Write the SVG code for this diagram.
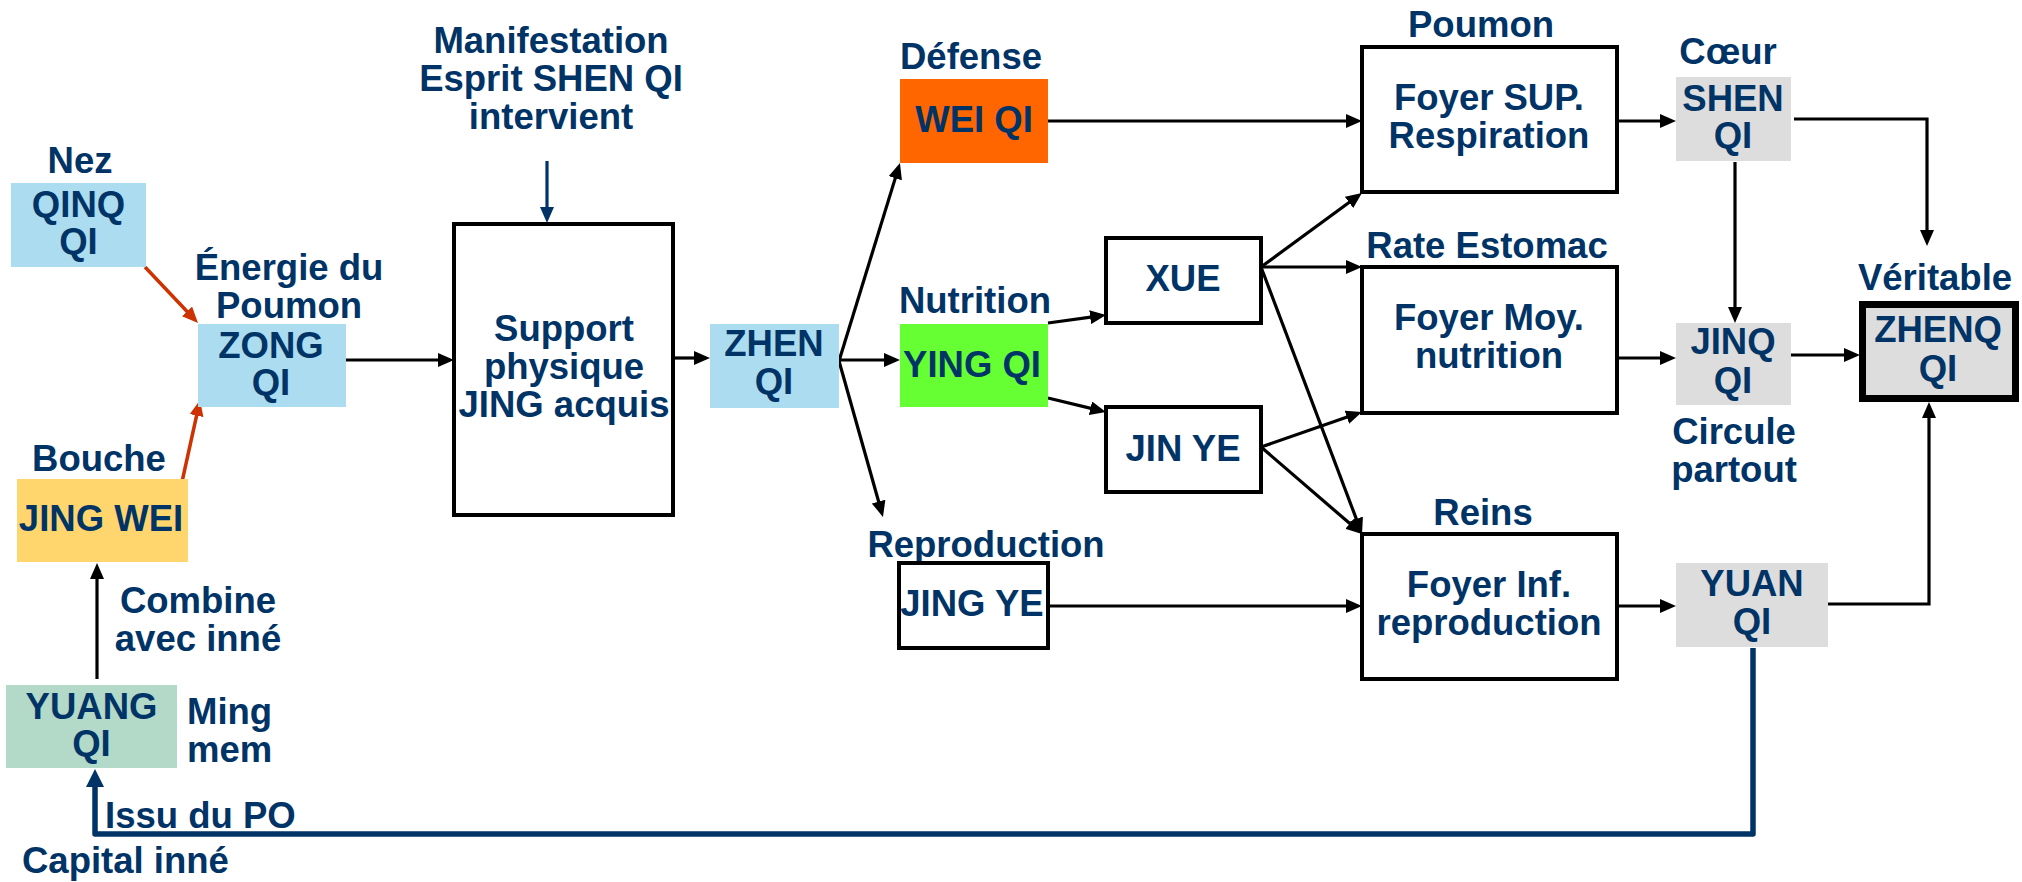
<svg xmlns="http://www.w3.org/2000/svg" width="2022" height="882" viewBox="0 0 2022 882">
<style>
text{font-family:"Liberation Sans",Arial,sans-serif;font-weight:bold;font-size:36.5px;fill:#003366;text-anchor:middle}
.st{text-anchor:start}
.bx{stroke:#000;stroke-width:4;fill:#fff}
.c{fill:none;stroke:#000;stroke-width:3.2}
.r{fill:none;stroke:#cc3300;stroke-width:3.5}
.n{fill:none;stroke:#003366;stroke-width:3.2}
.nb{fill:none;stroke:#003366;stroke-width:5.5;stroke-linejoin:round}
</style>
<defs>
<marker id="a" viewBox="0 0 16 14" refX="8" refY="7" markerWidth="16" markerHeight="14" markerUnits="userSpaceOnUse" orient="auto"><path d="M0,0 L16,7 L0,14 z" fill="#000"/></marker>
<marker id="ar" viewBox="0 0 16 14" refX="8" refY="7" markerWidth="16" markerHeight="14" markerUnits="userSpaceOnUse" orient="auto"><path d="M0,0 L16,7 L0,14 z" fill="#cc3300"/></marker>
<marker id="an" viewBox="0 0 16 14" refX="8" refY="7" markerWidth="16" markerHeight="14" markerUnits="userSpaceOnUse" orient="auto"><path d="M0,0 L16,7 L0,14 z" fill="#003366"/></marker>
<marker id="anb" viewBox="0 0 18 18" refX="8" refY="9" markerWidth="18" markerHeight="18" markerUnits="userSpaceOnUse" orient="auto"><path d="M0,0 L18,9 L0,18 z" fill="#003366"/></marker>
</defs>
<rect width="2022" height="882" fill="#fff"/>

<g id="connectors">
<line class="r" x1="145" y1="267" x2="192.5" y2="317.2" marker-end="url(#ar)"/>
<line class="r" x1="180" y1="491" x2="198.3" y2="407.8" marker-end="url(#ar)"/>
<line class="c" x1="97" y1="679" x2="97" y2="571" marker-end="url(#a)"/>
<line class="c" x1="346" y1="360" x2="446" y2="360" marker-end="url(#a)"/>
<line class="n" x1="547" y1="161" x2="547" y2="215" marker-end="url(#an)"/>
<line class="c" x1="673" y1="358" x2="702" y2="358" marker-end="url(#a)"/>
<line class="c" x1="839" y1="361" x2="897.6" y2="170.6" marker-end="url(#a)"/>
<line class="c" x1="839" y1="360" x2="892" y2="360" marker-end="url(#a)"/>
<line class="c" x1="839" y1="361" x2="880.8" y2="509.3" marker-end="url(#a)"/>
<line class="c" x1="1048" y1="121" x2="1354" y2="121" marker-end="url(#a)"/>
<line class="c" x1="1048" y1="323" x2="1098.1" y2="316.1" marker-end="url(#a)"/>
<line class="c" x1="1048" y1="398" x2="1098.2" y2="410.1" marker-end="url(#a)"/>
<line class="c" x1="1261" y1="267" x2="1355.5" y2="197.7" marker-end="url(#a)"/>
<line class="c" x1="1261" y1="267" x2="1354" y2="267" marker-end="url(#a)"/>
<line class="c" x1="1261" y1="267" x2="1359.2" y2="526.5" marker-end="url(#a)"/>
<line class="c" x1="1261" y1="447" x2="1354.4" y2="414.6" marker-end="url(#a)"/>
<line class="c" x1="1261" y1="447" x2="1355.9" y2="528.8" marker-end="url(#a)"/>
<line class="c" x1="1048" y1="606" x2="1354" y2="606" marker-end="url(#a)"/>
<line class="c" x1="1617" y1="121" x2="1668" y2="121" marker-end="url(#a)"/>
<polyline class="c" points="1794,119 1927,119 1927,238" marker-end="url(#a)"/>
<line class="c" x1="1735" y1="162" x2="1735" y2="315" marker-end="url(#a)"/>
<line class="c" x1="1617" y1="358" x2="1668" y2="358" marker-end="url(#a)"/>
<line class="c" x1="1791" y1="355" x2="1852" y2="355" marker-end="url(#a)"/>
<line class="c" x1="1617" y1="606" x2="1668" y2="606" marker-end="url(#a)"/>
<polyline class="c" points="1828,604 1929,604 1929,410" marker-end="url(#a)"/>
<polyline class="nb" points="1753,648 1753,834 95,834 95,779" marker-end="url(#anb)"/>
</g>

<g id="qinq">
<text x="80" y="173">Nez</text>
<rect x="11" y="183" width="135" height="84" fill="#abdcf0"/>
<text x="78.5" y="217">QINQ</text>
<text x="78.5" y="254">QI</text>
</g>
<g id="zong">
<text x="289" y="280">Énergie du</text>
<text x="289" y="318">Poumon</text>
<rect x="198" y="324" width="148" height="83" fill="#abdcf0"/>
<text x="271" y="358">ZONG</text>
<text x="271" y="395">QI</text>
</g>
<g id="jingwei">
<text x="99" y="471">Bouche</text>
<rect x="17" y="479" width="171" height="83" fill="#ffd66e"/>
<text x="101" y="531">JING WEI</text>
</g>
<g id="combine">
<text x="198" y="613">Combine</text>
<text x="198" y="651">avec inné</text>
</g>
<g id="yuang">
<rect x="6" y="685" width="171" height="83" fill="#b3d9c8"/>
<text x="91.5" y="719">YUANG</text>
<text x="91.5" y="756">QI</text>
<text class="st" x="187" y="724">Ming</text>
<text class="st" x="187" y="762">mem</text>
</g>
<g id="capital">
<text class="st" x="105" y="828">Issu du PO</text>
<text class="st" x="22" y="873">Capital inné</text>
</g>
<g id="manifestation">
<text x="551" y="53">Manifestation</text>
<text x="551" y="91">Esprit SHEN QI</text>
<text x="551" y="129">intervient</text>
</g>
<g id="support">
<rect class="bx" x="454" y="224" width="219" height="291"/>
<text x="564" y="341">Support</text>
<text x="564" y="379">physique</text>
<text x="564" y="417">JING acquis</text>
</g>
<g id="zhen">
<rect x="710" y="324" width="129" height="84" fill="#abdcf0"/>
<text x="774" y="356">ZHEN</text>
<text x="774" y="394">QI</text>
</g>
<g id="weiqi">
<text x="971" y="69">Défense</text>
<rect x="900" y="79" width="148" height="84" fill="#ff6600"/>
<text x="974" y="132">WEI QI</text>
</g>
<g id="yingqi">
<text x="975" y="313">Nutrition</text>
<rect x="900" y="324" width="148" height="83" fill="#66ff33"/>
<text x="972" y="377">YING QI</text>
</g>
<g id="jingye">
<text x="986" y="557">Reproduction</text>
<rect class="bx" x="899" y="563" width="149" height="85"/>
<text x="972" y="616">JING YE</text>
</g>
<g id="xue">
<rect class="bx" x="1106" y="238" width="155" height="85"/>
<text x="1183" y="291">XUE</text>
</g>
<g id="jinye">
<rect class="bx" x="1106" y="407" width="155" height="85"/>
<text x="1183" y="461">JIN YE</text>
</g>
<g id="foyersup">
<text x="1481" y="37">Poumon</text>
<rect class="bx" x="1362" y="47" width="255" height="145"/>
<text x="1489" y="110">Foyer SUP.</text>
<text x="1489" y="148">Respiration</text>
</g>
<g id="foyermoy">
<text x="1487" y="258">Rate Estomac</text>
<rect class="bx" x="1362" y="267" width="255" height="146"/>
<text x="1489" y="330">Foyer Moy.</text>
<text x="1489" y="368">nutrition</text>
</g>
<g id="foyerinf">
<text x="1483" y="525">Reins</text>
<rect class="bx" x="1362" y="534" width="255" height="145"/>
<text x="1489" y="597">Foyer Inf.</text>
<text x="1489" y="635">reproduction</text>
</g>
<g id="shenqi">
<text x="1728" y="64">Cœur</text>
<rect x="1676" y="77" width="115" height="84" fill="#dddddd"/>
<text x="1733" y="111">SHEN</text>
<text x="1733" y="148">QI</text>
</g>
<g id="jinqqi">
<rect x="1676" y="323" width="115" height="82" fill="#dddddd"/>
<text x="1733" y="354">JINQ</text>
<text x="1733" y="393">QI</text>
<text x="1734" y="444">Circule</text>
<text x="1734" y="482">partout</text>
</g>
<g id="yuanqi">
<rect x="1676" y="563" width="152" height="84" fill="#dddddd"/>
<text x="1752" y="596">YUAN</text>
<text x="1752" y="634">QI</text>
</g>
<g id="zhenqqi">
<text x="1935" y="290">Véritable</text>
<rect x="1862.5" y="304.5" width="153" height="94" fill="#dddddd" stroke="#000" stroke-width="7"/>
<text x="1938" y="342">ZHENQ</text>
<text x="1938" y="381">QI</text>
</g>
</svg>
